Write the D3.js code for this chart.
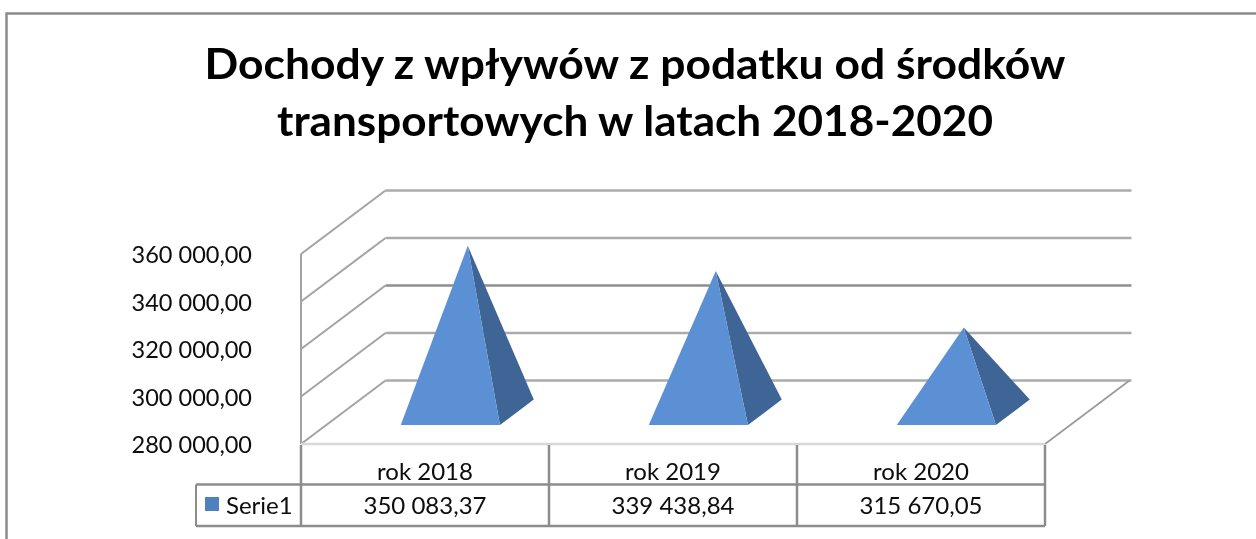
<!DOCTYPE html>
<html><head><meta charset="utf-8">
<script src="https://cdn.jsdelivr.net/npm/d3@7"></script>
<style>html,body{margin:0;padding:0;background:#fff;overflow:hidden}svg{display:block}text{font-family:Lato,"Open Sans",sans-serif;fill:#0a0a0a}</style>
</head><body><svg id="c" width="1256" height="539"><defs><filter id="soft" x="-5%" y="-20%" width="110%" height="140%"><feGaussianBlur stdDeviation="0.45"/></filter></defs></svg>
<script>
const titleLines = ["Dochody z wpływów z podatku od środków","transportowych w latach 2018-2020"];
const categories = ["rok 2018","rok 2019","rok 2020"];
const seriesName = "Serie1";
const values = [350083.37,339438.84,315670.05];
const tickValues = [280000,300000,320000,340000,360000];

const svg = d3.select("#c");
const fmt = d3.formatLocale({decimal:",",thousands:" ",grouping:[3],currency:["",""]}).format(",.2f");
const x = d3.scaleBand().domain(categories).range([301,1045]);
const y = d3.scaleLinear().domain([280000,360000]).range([444,254]);
const depthX = d3.scaleLinear().domain([0,1]).range([0,84.5]);
const depthY = d3.scaleLinear().domain([0,1]).range([0,-63.5]);
const grey = "#8c8c8c";
const line = (g,x1,y1,x2,y2,w,c)=>g.append("line").attr("x1",x1).attr("y1",y1).attr("x2",x2).attr("y2",y2).attr("stroke",c||grey).attr("stroke-width",w||2);

// outer frame
svg.append("path").attr("d","M6.5,539V13.5H1256").attr("fill","none").attr("stroke",grey).attr("stroke-width",2.5);

// title
svg.append("g").attr("filter","url(#soft)").selectAll("text").data(titleLines).join("text")
  .attr("x",635).attr("y",(d,i)=>[79,135.5][i]).attr("text-anchor","middle")
  .attr("font-size",42).attr("font-weight",700).attr("textLength",(d,i)=>[861,716][i]).attr("lengthAdjust","spacingAndGlyphs")
  .style("fill","#000").text(d=>d);

// walls and gridlines
const xl=x.range()[0], xr=x.range()[1];
const walls = svg.append("g");
tickValues.forEach(t=>{
  const yy=y(t);
  line(walls,xl,yy,xl+depthX(1),yy+depthY(1),2,"#a3a3a3");
  line(walls,xl+depthX(1),yy+depthY(1),xl+depthX(1)+746,yy+depthY(1),2.4,t===320000?"#8f8f8f":"#ababab");
});
line(walls,xl,y(280000),xl,y(360000),2,"#a3a3a3");
line(walls,xr,y(280000),xr+depthX(1),y(280000)+depthY(1),1.6,"#999");
line(walls,xl,y(280000),xr,y(280000),2.5,"#d8d8d8");

// value axis labels
const axis = d3.axisLeft(y).tickValues(tickValues).tickFormat(fmt).tickSize(0).tickPadding(0);
const ag = svg.append("g").attr("transform","translate(252,1)").attr("filter","url(#soft)").call(axis);
ag.select(".domain").remove();
ag.selectAll("text").attr("font-size",23.5).style("font-family","Lato,sans-serif").attr("dy","0.32em");

// pyramids
const z0=0.3, z1=0.7;
const pyr = svg.append("g");
categories.forEach((c,i)=>{
  const w=x.bandwidth()*0.4, cx=x(c)+x.bandwidth()/2, zm=(z0+z1)/2;
  const fl=cx-w/2+depthX(z0), fr=cx+w/2+depthX(z0), fy=y(280000)+depthY(z0);
  const bx=fr+depthX(z1-z0), by=y(280000)+depthY(z1);
  const ax=cx+depthX(zm)+0.5, ay=y(values[i])+depthY(zm);
  pyr.append("polygon").attr("points",[[fr,fy],[bx,by],[ax,ay]].join(" ")).attr("fill","#3e6595");
  pyr.append("polygon").attr("points",[[fl,fy],[fr,fy],[ax,ay]].join(" ")).attr("fill","#5b90d4");
});

// data table
const tb = svg.append("g");
const rowTop=445, rowMid=484.5, rowBot=526, legL=196;
line(tb,legL,rowMid,xr,rowMid,2.5);
line(tb,legL,rowBot,xr,rowBot,2.5);
line(tb,legL,rowMid,legL,rowBot,2);
[xl,...categories.map(c=>x(c)+x.bandwidth())].forEach(v=>line(tb,v,rowTop,v,rowBot,2.5));
tb.append("rect").attr("x",205).attr("y",497).attr("width",14).attr("height",14).attr("fill","#4f81bd");
const tt = svg.append("g").attr("filter","url(#soft)");
tt.append("text").attr("x",226).attr("y",514).attr("font-size",24).text(seriesName);
categories.forEach((c,i)=>{
  const cx=x(c)+x.bandwidth()/2;
  tt.append("text").attr("x",cx).attr("y",479.5).attr("text-anchor","middle").attr("font-size",24).text(c);
  tt.append("text").attr("x",cx).attr("y",514).attr("text-anchor","middle").attr("font-size",24).text(fmt(values[i]));
});
</script></body></html>
